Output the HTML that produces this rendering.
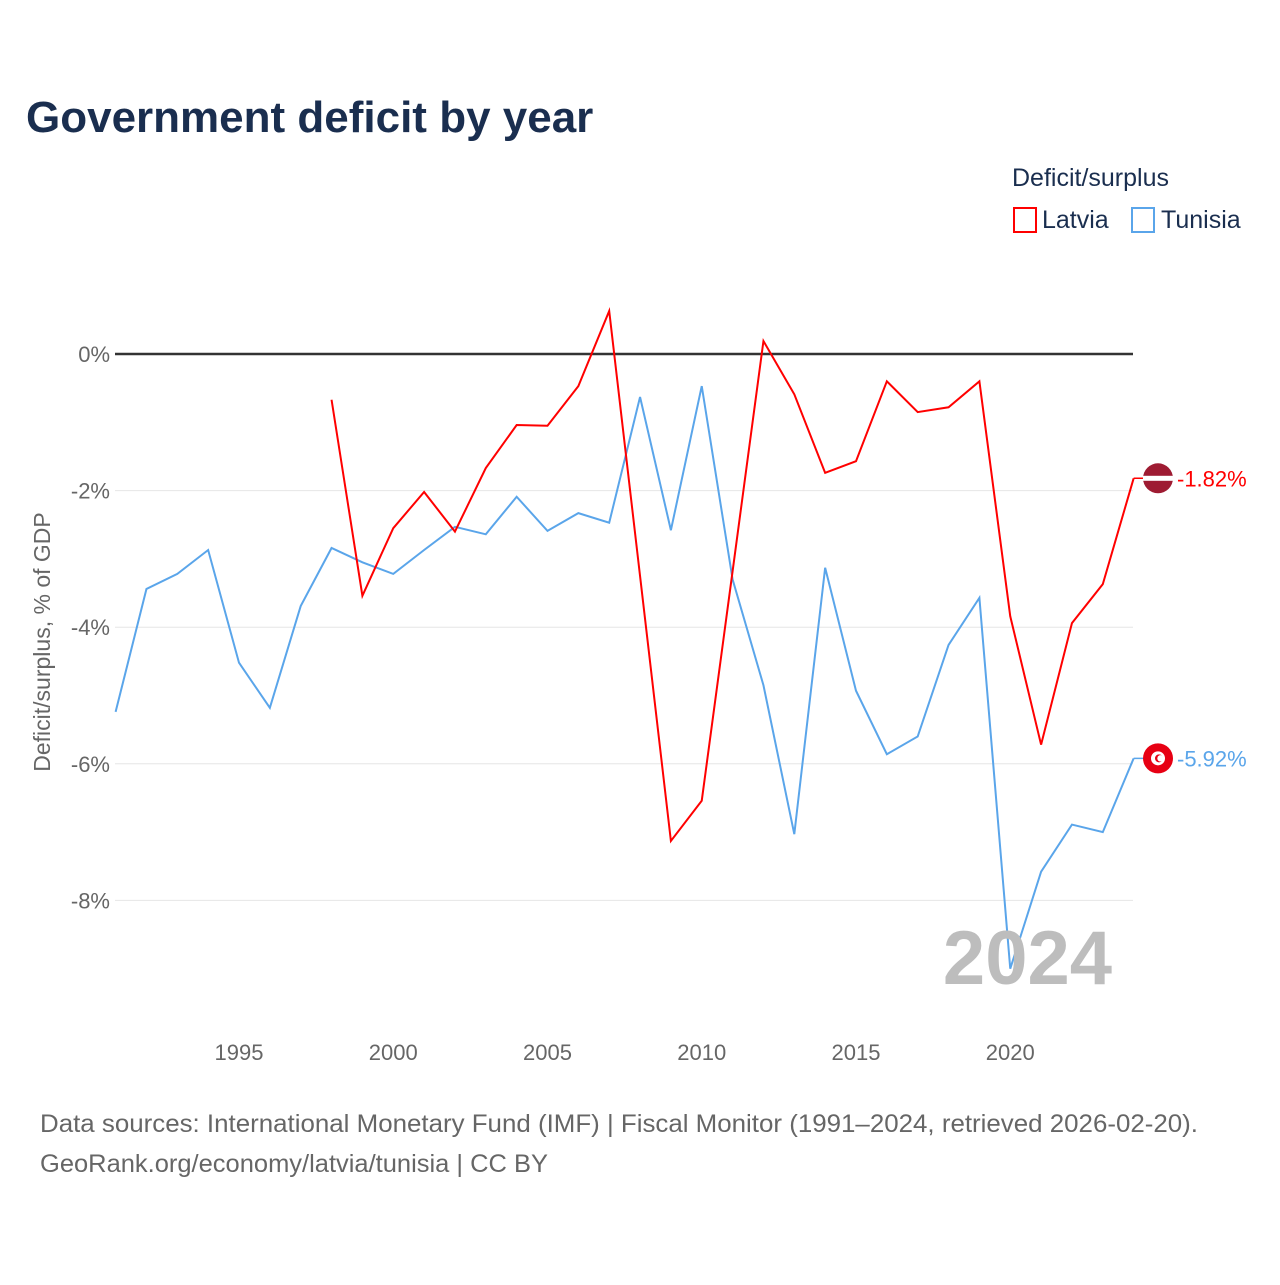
<!DOCTYPE html>
<html><head><meta charset="utf-8"><style>
body{margin:0;background:#fff;font-family:"Liberation Sans",sans-serif}
svg text{font-family:"Liberation Sans",sans-serif}
</style></head><body>
<svg id="chart" width="1280" height="1280" viewBox="0 0 1280 1280">
<text x="26" y="132" font-size="44" font-weight="bold" fill="#1a2e4f">Government deficit by year</text>
<g>
<text x="1012" y="186" font-size="25" fill="#1a2e4f">Deficit/surplus</text>
<g><rect x="1014" y="208" width="22" height="24" fill="none" stroke="#ff0000" stroke-width="2"/><text x="1042" y="228" font-size="25" fill="#1a2e4f">Latvia</text></g>
<g><rect x="1132" y="208" width="22" height="24" fill="none" stroke="#5aa5ea" stroke-width="2"/><text x="1161" y="228" font-size="25" fill="#1a2e4f">Tunisia</text></g>
</g>
<g id="grid"></g><g id="xaxis"></g><g id="series"></g>
<text transform="translate(50,642) rotate(-90)" text-anchor="middle" font-size="23" fill="#666">Deficit/surplus, % of GDP</text>
<text x="1112" y="984" text-anchor="end" font-size="76" font-weight="bold" fill="#bdbdbd">2024</text>
<text x="40" y="1132" font-size="25" fill="#666" textLength="1158" lengthAdjust="spacingAndGlyphs">Data sources: International Monetary Fund (IMF) | Fiscal Monitor (1991–2024, retrieved 2026-02-20).</text>
<text x="40" y="1172" font-size="25" fill="#666" textLength="508" lengthAdjust="spacingAndGlyphs">GeoRank.org/economy/latvia/tunisia | CC BY</text>
</svg>
<script>
const yTicks=[0,-2,-4,-6,-8];
const xTicks=[1995,2000,2005,2010,2015,2020];
const latviaYears=[1998,1999,2000,2001,2002,2003,2004,2005,2006,2007,2008,2009,2010,2011,2012,2013,2014,2015,2016,2017,2018,2019,2020,2021,2022,2023,2024];
const latviaValues=[-0.67,-3.54,-2.55,-2.02,-2.6,-1.67,-1.04,-1.05,-0.47,0.63,-3.25,-7.13,-6.54,-3.18,0.19,-0.59,-1.74,-1.57,-0.4,-0.85,-0.78,-0.4,-3.84,-5.72,-3.94,-3.37,-1.82];
const tunisiaYears=[1991,1992,1993,1994,1995,1996,1997,1998,1999,2000,2001,2002,2003,2004,2005,2006,2007,2008,2009,2010,2011,2012,2013,2014,2015,2016,2017,2018,2019,2020,2021,2022,2023,2024];
const tunisiaValues=[-5.24,-3.44,-3.22,-2.87,-4.52,-5.18,-3.69,-2.84,-3.05,-3.22,-2.87,-2.53,-2.64,-2.09,-2.59,-2.33,-2.47,-0.63,-2.58,-0.47,-3.3,-4.85,-7.03,-3.13,-4.93,-5.86,-5.6,-4.26,-3.57,-9.0,-7.58,-6.89,-7.0,-5.92];
const NS="http://www.w3.org/2000/svg";
const x=yr=>115.6+(yr-1991)*30.85;
const y=v=>354-v*68.3;
function mk(t,a,p){const e=document.createElementNS(NS,t);for(const k in a)e.setAttribute(k,a[k]);p.appendChild(e);return e;}
const grid=document.getElementById('grid');
yTicks.forEach(v=>{
 const l=mk('line',{x1:115,x2:1133,y1:y(v),y2:y(v),stroke:v===0?'#333':'#e6e6e6','stroke-width':v===0?2.5:1},grid);
 
 
 const t=mk('text',{x:110,y:y(v)+8,'text-anchor':'end','font-size':22,fill:'#666'},grid);
 t.textContent=v+'%';
 
 
});
const xa=document.getElementById('xaxis');
xTicks.forEach(yr=>{
 const t=mk('text',{x:x(yr),y:1060,'text-anchor':'middle','font-size':22,fill:'#666'},xa);
 t.textContent=yr;
 
 
});
const s=document.getElementById('series');
function draw(years,vals,color,name,flag){
 const p=mk('polyline',{points:years.map((yr,i)=>x(yr)+','+y(vals[i])).join(' '),fill:'none',stroke:color,'stroke-width':2},s);
 
 
 const lx=x(years[years.length-1]),lv=vals[vals.length-1];
 mk('line',{x1:lx,x2:1158,y1:y(lv),y2:y(lv),stroke:color,'stroke-width':1.5},s);
 const g=mk('g',{},s);
 
 
 if(flag==='lv'){
  mk('circle',{cx:1158,cy:y(lv),r:15,fill:'#9e1b32'},g);
  mk('rect',{x:1143,y:y(lv)-2.5,width:30,height:5,fill:'#fff'},g);
 }else{
  mk('circle',{cx:1158,cy:y(lv),r:15,fill:'#e70013'},g);
  mk('circle',{cx:1158,cy:y(lv),r:7,fill:'#fff'},g);
  mk('circle',{cx:1159,cy:y(lv),r:4,fill:'#e70013'},g);
  mk('circle',{cx:1160.5,cy:y(lv),r:3.2,fill:'#fff'},g);
 }
 const t=mk('text',{x:1177,y:y(lv)+8,'font-size':22,fill:color},s);
 t.textContent=lv.toFixed(2)+'%';
 
 
}
draw(tunisiaYears,tunisiaValues,'#5aa5ea','tunisia','tn');
draw(latviaYears,latviaValues,'#ff0000','latvia','lv');
</script>
</body></html>
